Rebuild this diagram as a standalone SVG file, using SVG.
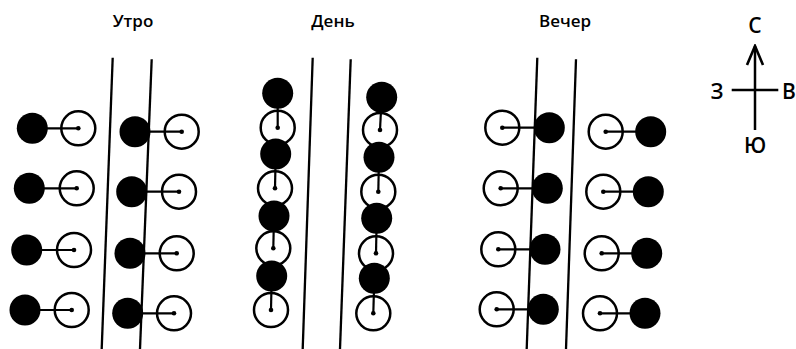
<svg xmlns="http://www.w3.org/2000/svg" width="796" height="349" viewBox="0 0 796 349">
<style>
.t{font-family:"Open Sans","Liberation Sans",sans-serif;font-size:17px;font-weight:600;fill:#000;text-anchor:middle}
.c{font-family:"Open Sans","Liberation Sans",sans-serif;font-size:21px;font-weight:600;fill:#000;text-anchor:middle}
.m{stroke:#000;stroke-width:2.3;fill:none}
.o{fill:#fff;stroke:#000;stroke-width:2.5}
.f{fill:#000}
.l{stroke:#000;stroke-width:2.2}
.d{fill:#000}
</style>
<defs>
<marker id="ah" viewBox="0 0 22 20" refX="20" refY="10" markerWidth="22" markerHeight="20" markerUnits="userSpaceOnUse" orient="auto">
<path d="M1,2 L20,10 L1,18" fill="none" stroke="#000" stroke-width="2.6"/>
</marker>
</defs>
<rect width="796" height="349" fill="#fff"/>
<text class="t" x="133" y="27">Утро</text>
<text class="t" x="333" y="27">День</text>
<text class="t" x="565" y="27">Вечер</text>
<g id="membranes">
<line class="m" x1="112.7" y1="57.7" x2="101.7" y2="349"/>
<line class="m" x1="151.7" y1="59.3" x2="140" y2="349"/>
<line class="m" x1="312.7" y1="57.7" x2="302.7" y2="349"/>
<line class="m" x1="350.7" y1="59.3" x2="340" y2="349"/>
<line class="m" x1="537.3" y1="57.7" x2="526.7" y2="349"/>
<line class="m" x1="576" y1="59.3" x2="566" y2="349"/>
</g>
<!-- Утро left -->
<g id="m1a"><circle class="o" cx="78.3" cy="128.3" r="17"/><circle class="f" cx="32.3" cy="128.3" r="15.5"/><line class="l" x1="32.3" y1="128.3" x2="78.3" y2="128.3"/><circle class="d" cx="78.3" cy="128.3" r="2.3"/></g>
<g id="m1b"><circle class="o" cx="76.7" cy="188.3" r="17"/><circle class="f" cx="29.3" cy="188.3" r="15.5"/><line class="l" x1="29.3" y1="188.3" x2="76.7" y2="188.3"/><circle class="d" cx="76.7" cy="188.3" r="2.3"/></g>
<g id="m1c"><circle class="o" cx="74" cy="250" r="17"/><circle class="f" cx="26.7" cy="250" r="15.5"/><line class="l" x1="26.7" y1="250" x2="74" y2="250"/><circle class="d" cx="74" cy="250" r="2.3"/></g>
<g id="m1d"><circle class="o" cx="71.7" cy="310" r="17"/><circle class="f" cx="25" cy="310" r="15.5"/><line class="l" x1="25" y1="310" x2="71.7" y2="310"/><circle class="d" cx="71.7" cy="310" r="2.3"/></g>
<!-- Утро right -->
<g id="m1e"><circle class="o" cx="181.7" cy="131.7" r="17"/><circle class="f" cx="135" cy="131.7" r="15.5"/><line class="l" x1="135" y1="131.7" x2="181.7" y2="131.7"/><circle class="d" cx="181.7" cy="131.7" r="2.3"/></g>
<g id="m1f"><circle class="o" cx="179" cy="191.7" r="17"/><circle class="f" cx="131.7" cy="191.7" r="15.5"/><line class="l" x1="131.7" y1="191.7" x2="179" y2="191.7"/><circle class="d" cx="179" cy="191.7" r="2.3"/></g>
<g id="m1g"><circle class="o" cx="176.7" cy="253.3" r="17"/><circle class="f" cx="130" cy="253.3" r="15.5"/><line class="l" x1="130" y1="253.3" x2="176.7" y2="253.3"/><circle class="d" cx="176.7" cy="253.3" r="2.3"/></g>
<g id="m1h"><circle class="o" cx="174" cy="313.3" r="17"/><circle class="f" cx="127.7" cy="313.3" r="15.5"/><line class="l" x1="127.7" y1="313.3" x2="174" y2="313.3"/><circle class="d" cx="174" cy="313.3" r="2.3"/></g>
<!-- День left -->
<g id="m2a"><circle class="o" cx="277.7" cy="127.7" r="17"/><circle class="f" cx="277.7" cy="93.3" r="15.5"/><line class="l" x1="277.7" y1="93.3" x2="277.7" y2="127.7"/><circle class="d" cx="277.7" cy="127.7" r="2.3"/></g>
<g id="m2b"><circle class="o" cx="275" cy="188.3" r="17"/><circle class="f" cx="275.7" cy="154" r="15.5"/><line class="l" x1="275.7" y1="154" x2="275" y2="188.3"/><circle class="d" cx="275" cy="188.3" r="2.3"/></g>
<g id="m2c"><circle class="o" cx="273.3" cy="248.3" r="17"/><circle class="f" cx="274" cy="216" r="15.5"/><line class="l" x1="274" y1="216" x2="273.3" y2="248.3"/><circle class="d" cx="273.3" cy="248.3" r="2.3"/></g>
<g id="m2d"><circle class="o" cx="271" cy="310" r="17"/><circle class="f" cx="271.7" cy="276" r="15.5"/><line class="l" x1="271.7" y1="276" x2="271" y2="310"/><circle class="d" cx="271" cy="310" r="2.3"/></g>
<!-- День right -->
<g id="m2e"><circle class="o" cx="380" cy="130" r="17"/><circle class="f" cx="381.7" cy="97.3" r="15.5"/><line class="l" x1="381.7" y1="97.3" x2="380" y2="130"/><circle class="d" cx="380" cy="130" r="2.3"/></g>
<g id="m2f"><circle class="o" cx="378.3" cy="191.7" r="17"/><circle class="f" cx="379" cy="157.3" r="15.5"/><line class="l" x1="379" y1="157.3" x2="378.3" y2="191.7"/><circle class="d" cx="378.3" cy="191.7" r="2.3"/></g>
<g id="m2g"><circle class="o" cx="376" cy="253.3" r="17"/><circle class="f" cx="376.7" cy="218.3" r="15.5"/><line class="l" x1="376.7" y1="218.3" x2="376" y2="253.3"/><circle class="d" cx="376" cy="253.3" r="2.3"/></g>
<g id="m2h"><circle class="o" cx="373.3" cy="313.3" r="17"/><circle class="f" cx="374.3" cy="278.3" r="15.5"/><line class="l" x1="374.3" y1="278.3" x2="373.3" y2="313.3"/><circle class="d" cx="373.3" cy="313.3" r="2.3"/></g>
<!-- Вечер left -->
<g id="m3a"><circle class="o" cx="502.3" cy="127.7" r="17"/><circle class="f" cx="549.3" cy="127.7" r="15.5"/><line class="l" x1="549.3" y1="127.7" x2="502.3" y2="127.7"/><circle class="d" cx="502.3" cy="127.7" r="2.3"/></g>
<g id="m3b"><circle class="o" cx="500.7" cy="188.3" r="17"/><circle class="f" cx="547.3" cy="188.3" r="15.5"/><line class="l" x1="547.3" y1="188.3" x2="500.7" y2="188.3"/><circle class="d" cx="500.7" cy="188.3" r="2.3"/></g>
<g id="m3c"><circle class="o" cx="498.3" cy="249.3" r="17"/><circle class="f" cx="545" cy="249.3" r="15.5"/><line class="l" x1="545" y1="249.3" x2="498.3" y2="249.3"/><circle class="d" cx="498.3" cy="249.3" r="2.3"/></g>
<g id="m3d"><circle class="o" cx="496.7" cy="309.3" r="17"/><circle class="f" cx="543.3" cy="309.3" r="15.5"/><line class="l" x1="543.3" y1="309.3" x2="496.7" y2="309.3"/><circle class="d" cx="496.7" cy="309.3" r="2.3"/></g>
<!-- Вечер right -->
<g id="m3e"><circle class="o" cx="605.7" cy="131.7" r="17"/><circle class="f" cx="650.7" cy="131.7" r="15.5"/><line class="l" x1="650.7" y1="131.7" x2="605.7" y2="131.7"/><circle class="d" cx="605.7" cy="131.7" r="2.3"/></g>
<g id="m3f"><circle class="o" cx="603.3" cy="191.7" r="17"/><circle class="f" cx="648.3" cy="191.7" r="15.5"/><line class="l" x1="648.3" y1="191.7" x2="603.3" y2="191.7"/><circle class="d" cx="603.3" cy="191.7" r="2.3"/></g>
<g id="m3g"><circle class="o" cx="601.7" cy="253.3" r="17"/><circle class="f" cx="646.7" cy="253.3" r="15.5"/><line class="l" x1="646.7" y1="253.3" x2="601.7" y2="253.3"/><circle class="d" cx="601.7" cy="253.3" r="2.3"/></g>
<g id="m3h"><circle class="o" cx="600" cy="313.3" r="17"/><circle class="f" cx="645" cy="313.3" r="15.5"/><line class="l" x1="645" y1="313.3" x2="600" y2="313.3"/><circle class="d" cx="600" cy="313.3" r="2.3"/></g>
<!-- compass -->
<g id="compass">
<line stroke="#000" stroke-width="2.5" x1="755" y1="130" x2="755" y2="46" marker-end="url(#ah)"/>
<line stroke="#000" stroke-width="2.5" x1="731.7" y1="90" x2="778.3" y2="90"/>
<text class="c" x="755" y="33">С</text>
<text class="c" x="717" y="99">З</text>
<text class="c" x="789" y="99">В</text>
<text class="c" x="755" y="153">Ю</text>
</g>
</svg>
